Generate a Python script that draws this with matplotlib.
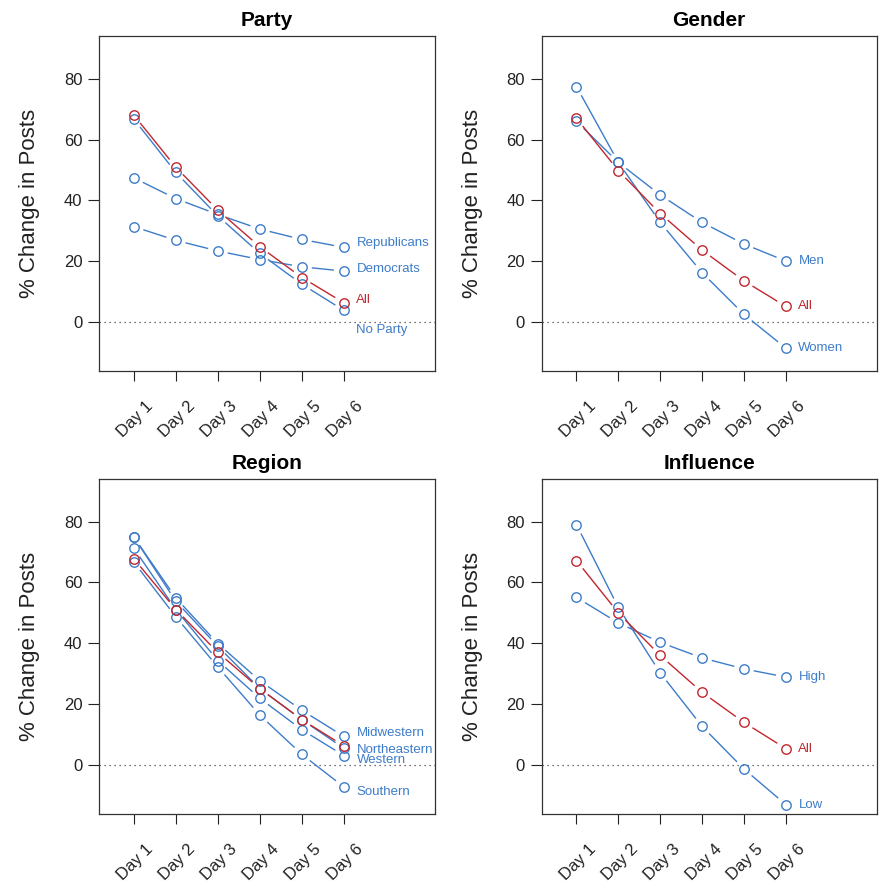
import numpy as np
import matplotlib
matplotlib.use('Agg')
import matplotlib.pyplot as plt
from matplotlib.transforms import ScaledTranslation

plt.rcParams['font.family'] = ['Liberation Sans', 'DejaVu Sans']

days = ['Day 1', 'Day 2', 'Day 3', 'Day 4', 'Day 5', 'Day 6']

all_party = [68.0, 50.9, 36.8, 24.8, 14.7, 6.4]
all_gender = [67.0, 49.8, 35.7, 23.7, 13.6, 5.2]
all_region = [67.8, 51.1, 37.0, 25.1, 14.9, 6.3]
all_influence = [67.2, 50.0, 36.0, 23.9, 14.0, 5.4]

republicans = [47.4, 40.6, 35.4, 30.6, 27.2, 24.6]
democrats = [31.4, 26.9, 23.4, 20.6, 18.2, 16.8]
no_party = [66.7, 49.2, 34.9, 22.6, 12.5, 3.9]

men = [77.4, 52.5, 41.8, 32.8, 25.7, 20.1]
women = [66.0, 52.5, 32.8, 16.3, 2.6, -8.5]

midwestern = [74.9, 54.9, 39.9, 27.7, 18.0, 9.4]
northeastern = [74.9, 53.8, 39.0, 25.1, 14.9, 5.5]
western = [71.2, 51.1, 34.3, 21.9, 11.6, 3.1]
southern = [66.7, 48.7, 32.2, 16.4, 3.5, -7.2]

high = [55.1, 46.7, 40.3, 35.2, 31.6, 28.9]
low = [79.0, 51.8, 30.3, 12.7, -1.3, -13.0]

# label y positions (nudged apart like the original)
party_labels = [('Republicans', 26.1), ('Democrats', 17.6), ('All', 7.2), ('No Party', -2.6)]
gender_labels = [('Men', 20.1), ('All', 5.2), ('Women', -8.5)]
region_labels = [('Midwestern', 10.5), ('Northeastern', 5.0), ('Western', 1.5), ('Southern', -8.8)]
influence_labels = [('High', 28.9), ('All', 5.4), ('Low', -13.0)]

BLUE = '#3d7cc9'
RED = '#c1272d'

fig = plt.figure(figsize=(8.82, 8.84), dpi=100)
W, H = 882.0, 884.0


def make_ax(left, top, right, bottom):
    return fig.add_axes([left / W, 1 - bottom / H, (right - left) / W, (bottom - top) / H])


def draw_b(ax, y, color):
    # R style type="b": hollow points, lines with gaps
    x = np.arange(1, len(y) + 1)
    pts = ax.transData.transform(np.column_stack([x, y]))
    gap = 10.0
    for i in range(len(pts) - 1):
        p1, p2 = pts[i], pts[i + 1]
        d = p2 - p1
        L = np.hypot(d[0], d[1])
        if L <= 2 * gap:
            continue
        u = d / L
        seg = np.array([p1 + u * gap, p2 - u * gap])
        seg = ax.transData.inverted().transform(seg)
        ax.plot(seg[:, 0], seg[:, 1], color=color, lw=1.0, solid_capstyle='butt')
    ax.plot(x, y, 'o', ms=6.8, mfc='none', mec=color, mew=1.0, ls='none')


def setup(ax, title):
    ax.set_xlim(0.17, 8.17)
    ax.set_ylim(-16, 94)
    ax.set_yticks([0, 20, 40, 60, 80])
    ax.set_xticks(range(1, 7))
    ax.set_xticklabels([])
    ax.tick_params(axis='y', direction='out', length=8, width=0.8, labelsize=12, pad=4, colors='#222222')
    ax.tick_params(axis='x', direction='out', length=7.5, width=0.8, colors='#222222')
    for s in ax.spines.values():
        s.set_linewidth(0.9)
        s.set_color('#333333')
    ax.axhline(0, color='#444444', lw=0.9, ls=(0, (1, 3)))
    ax.set_title(title, fontsize=15, fontweight='bold', pad=7)
    ax.set_ylabel('% Change in Posts', fontsize=16, labelpad=17, color='#222222')
    off = ScaledTranslation(17 / 100, -33 / 100, fig.dpi_scale_trans)
    for i, d in enumerate(days):
        ax.text(i + 1, 0, d, transform=ax.get_xaxis_transform() + off,
                rotation=45, rotation_mode='anchor', ha='right', va='center',
                fontsize=12, color='#222222')


def add_labels(ax, labels):
    for name, yy in labels:
        c = RED if name == 'All' else BLUE
        ax.text(6.3, yy, name, color=c, fontsize=9.5, ha='left', va='center', clip_on=False)


ax1 = make_ax(99, 36, 435, 371)
setup(ax1, 'Party')
for s in [republicans, democrats, no_party]:
    draw_b(ax1, s, BLUE)
draw_b(ax1, all_party, RED)
add_labels(ax1, party_labels)

ax2 = make_ax(541.7, 36, 876.7, 371)
setup(ax2, 'Gender')
for s in [men, women]:
    draw_b(ax2, s, BLUE)
draw_b(ax2, all_gender, RED)
add_labels(ax2, gender_labels)

ax3 = make_ax(99, 479, 435, 813.7)
setup(ax3, 'Region')
for s in [midwestern, northeastern, western, southern]:
    draw_b(ax3, s, BLUE)
draw_b(ax3, all_region, RED)
add_labels(ax3, region_labels)

ax4 = make_ax(541.7, 479, 876.7, 813.7)
setup(ax4, 'Influence')
for s in [high, low]:
    draw_b(ax4, s, BLUE)
draw_b(ax4, all_influence, RED)
add_labels(ax4, influence_labels)

fig.savefig('out.png', dpi=100)
